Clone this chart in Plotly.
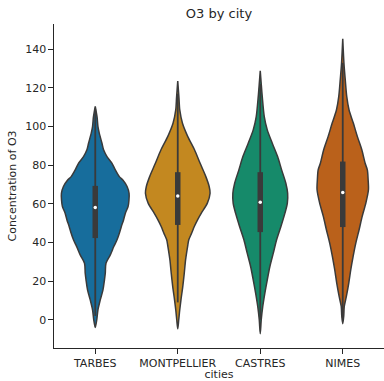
import plotly.graph_objects as go

# ---- data ----
cities = ["TARBES", "MONTPELLIER", "CASTRES", "NIMES"]

# density profiles: O3 level and relative density (1.0 = widest violin)
tarbes_levels = [-4, 0, 5.2, 10.3, 15.5, 20.7, 24.1, 29.3, 33.6, 37.9, 41.4, 44.8, 48.3, 51.7, 55.2, 58.6, 62, 65.5, 69, 72.4, 74.1, 77.6, 81, 84.5, 88, 91.4, 96.6, 100, 105, 110.5]
tarbes_density = [0, 1.5, 2.7, 5.0, 7.7, 9.2, 10.0, 10.7, 15.0, 18.5, 21.7, 24.0, 26.0, 28.2, 30.0, 32.7, 33.6, 33.7, 31.7, 27.5, 24.0, 20.0, 16.7, 11.7, 8.3, 6.7, 4.0, 2.7, 1.8, 0]

montpellier_levels = [-4.7, 0, 5.2, 10.3, 17.2, 24.1, 31, 37.9, 41.4, 44.8, 48.3, 52, 55.2, 60.4, 65.5, 69, 74.1, 81, 88, 94.8, 101.7, 108.6, 115, 123.6]
montpellier_density = [0, 1.0, 2.0, 3.2, 5.0, 6.5, 7.8, 9.8, 11.0, 13.8, 16.5, 20.0, 23.5, 29.5, 32.2, 31.3, 28.0, 22.3, 16.7, 10.0, 4.7, 2.0, 1.2, 0]

castres_levels = [-7.2, 0, 6.9, 13.8, 20.7, 27.6, 34.5, 41.4, 48.3, 55.2, 60.4, 65.5, 70.7, 77.6, 84.5, 91.4, 98.3, 105.2, 115.5, 122, 128.9]
castres_density = [0, 1.0, 2.5, 4.6, 7.0, 9.6, 13.0, 16.3, 20.6, 24.6, 27.0, 27.3, 25.5, 21.3, 17.3, 12.0, 7.0, 4.0, 2.0, 1.0, 0]

nimes_levels = [-2.1, 2, 6.9, 12.1, 19, 25.9, 32.7, 39.7, 46.6, 53.4, 60.4, 67.3, 72.4, 77.6, 81, 88, 94.8, 101.7, 108.6, 115.5, 124.2, 132.8, 145.4]
nimes_density = [0, 1.0, 1.5, 3.6, 6.0, 8.0, 10.3, 13.0, 16.3, 19.3, 23.0, 25.6, 25.3, 24.5, 22.3, 19.0, 14.6, 10.6, 6.3, 4.0, 2.5, 1.2, 0]

# box statistics
q1 = [42.3, 49.1, 45.4, 48.0]
median = [58.1, 64.1, 60.9, 65.9]
q3 = [69.3, 76.4, 76.4, 81.9]
whisker_lo = [2, 9, 0, 1]
whisker_hi = [109, 117, 122, 133]

y_ticks = [0, 20, 40, 60, 80, 100, 120, 140]

# ---- styling ----
fills = ["#176D9C", "#C38820", "#168A6A", "#BA611B"]
gray = "#3a3a3a"
text_color = "#262626"
max_density = 33.7
half_width = 0.41

levels = [tarbes_levels, montpellier_levels, castres_levels, nimes_levels]
densities = [tarbes_density, montpellier_density, castres_density, nimes_density]

fig = go.Figure()
for i, city in enumerate(cities):
    lv = levels[i]
    dn = densities[i]
    w = [d / max_density * half_width for d in dn]
    xs = [i - wi for wi in w] + [i + wi for wi in reversed(w)]
    ys = list(lv) + list(reversed(lv))
    fig.add_trace(go.Scatter(x=xs, y=ys, mode="lines", fill="toself",
                             fillcolor=fills[i],
                             line=dict(color=gray, width=1.5, shape="spline", smoothing=0.8),
                             hoverinfo="skip", showlegend=False))
    fig.add_trace(go.Scatter(x=[i, i], y=[whisker_lo[i], whisker_hi[i]], mode="lines",
                             line=dict(color=gray, width=1.8), showlegend=False, hoverinfo="skip"))
    fig.add_trace(go.Scatter(x=[i, i], y=[q1[i], q3[i]], mode="lines",
                             line=dict(color=gray, width=5.5), showlegend=False, hoverinfo="skip"))
    fig.add_trace(go.Scatter(x=[i], y=[median[i]], mode="markers",
                             marker=dict(color="white", size=3.5, line=dict(width=0)),
                             showlegend=False, name=city))

font = dict(family="DejaVu Sans", size=11, color=text_color)
fig.update_layout(
    width=384, height=381,
    margin=dict(l=54, r=0, t=24, b=33),
    paper_bgcolor="white", plot_bgcolor="white",
    font=font,
    title=dict(text="O3 by city", x=0.5, xref="paper", xanchor="center",
               y=1 - 13.3 / 381, yref="container", yanchor="middle", automargin=False,
               font=dict(family="DejaVu Sans", size=13, color=text_color)),
    showlegend=False,
)
fig.update_xaxes(range=[-0.5, 3.5], tickvals=list(range(len(cities))), ticktext=cities,
                 showline=True, linecolor=text_color, linewidth=1.25,
                 ticks="outside", ticklen=4.5, tickwidth=1.25, tickcolor=text_color,
                 showgrid=False, zeroline=False, automargin=False,
                 title=dict(text="cities", standoff=2, font=font))
fig.update_yaxes(range=[-14.6, 153.1], tickvals=y_ticks,
                 showline=True, linecolor=text_color, linewidth=1.25,
                 ticks="outside", ticklen=4.5, tickwidth=1.25, tickcolor=text_color,
                 showgrid=False, zeroline=False, automargin=False,
                 title=dict(text="Concentration of O3", standoff=6, font=font))

fig.write_html("out.html", config={"displayModeBar": False},
               post_script="document.body.style.margin='0';")
